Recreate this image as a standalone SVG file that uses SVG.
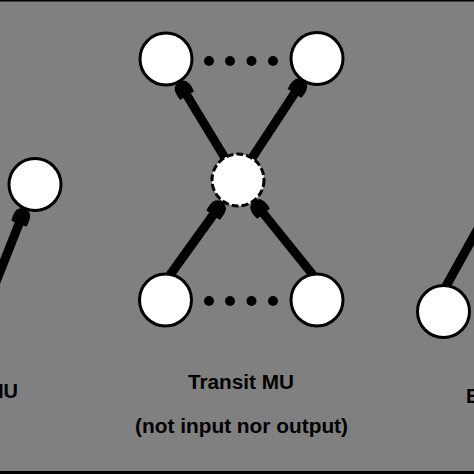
<svg xmlns="http://www.w3.org/2000/svg" width="474" height="474" viewBox="0 0 474 474">
<defs>
<style>
.node{fill:#fff;stroke:#000;stroke-width:3}
.dash{stroke-dasharray:7 3}
.dot{fill:#000}
.edge{stroke:#000;stroke-width:9;fill:none}
.arr{marker-end:url(#head)}
.lbl{font-family:"Liberation Sans",Arial,sans-serif;font-weight:bold;font-size:20px;fill:#000}
</style>
<marker id="head" markerUnits="userSpaceOnUse" viewBox="-14 -10 18 20" markerWidth="18" markerHeight="20" refX="0" refY="0" orient="auto">
<path d="M-13,-7.5 Q-5,-8.5 -1,-6 Q2,-3 2,0 Q2,3 -1,6 Q-5,8.5 -13,7.5 Z" fill="#000" stroke="#000" stroke-width="1.5" stroke-linejoin="round"/>
</marker>
</defs>
<rect x="0" y="0" width="474" height="474" fill="#808080"/>
<rect x="0" y="0" width="474" height="1.5" fill="#000"/>
<rect x="0" y="471" width="474" height="3" fill="#000"/>
<g id="connectors">
<line class="edge arr" x1="-10" y1="297" x2="24" y2="211"/>
<line class="edge" x1="445" y1="288" x2="490" y2="207"/>
<line class="edge arr" x1="170" y1="275" x2="221" y2="204"/>
<line class="edge arr" x1="313" y1="275" x2="255" y2="203"/>
<line class="edge arr" x1="225" y1="158" x2="180" y2="84"/>
<line class="edge arr" x1="252" y1="158" x2="302" y2="82"/>
</g>
<g id="left-node"><circle class="node" cx="35" cy="184.5" r="26"/></g>
<g id="right-node"><circle class="node" cx="443.5" cy="311.5" r="26"/></g>
<g id="top-left"><circle class="node" cx="166" cy="59" r="26"/></g>
<g id="top-right"><circle class="node" cx="317" cy="58.5" r="26"/></g>
<g id="middle"><circle class="node dash" cx="238" cy="180" r="26"/></g>
<g id="bottom-left"><circle class="node" cx="165.5" cy="300" r="26"/></g>
<g id="bottom-right"><circle class="node" cx="317" cy="300" r="26"/></g>
<g id="top-dots">
<circle class="dot" cx="209" cy="61" r="5"/><circle class="dot" cx="230" cy="61" r="5"/><circle class="dot" cx="251.5" cy="61" r="5"/><circle class="dot" cx="273" cy="61" r="5"/>
</g>
<g id="bottom-dots">
<circle class="dot" cx="209" cy="301" r="5"/><circle class="dot" cx="230" cy="301" r="5"/><circle class="dot" cx="251.5" cy="301" r="5"/><circle class="dot" cx="273" cy="301" r="5"/>
</g>
<g id="labels">
<text class="lbl" x="18" y="398" text-anchor="end">MU</text>
<text class="lbl" x="241" y="389" text-anchor="middle" textLength="106" lengthAdjust="spacingAndGlyphs">Transit MU</text>
<text class="lbl" x="241.5" y="433" text-anchor="middle" textLength="213" lengthAdjust="spacingAndGlyphs">(not input nor output)</text>
<text class="lbl" x="466" y="403">E</text>
</g>
</svg>
